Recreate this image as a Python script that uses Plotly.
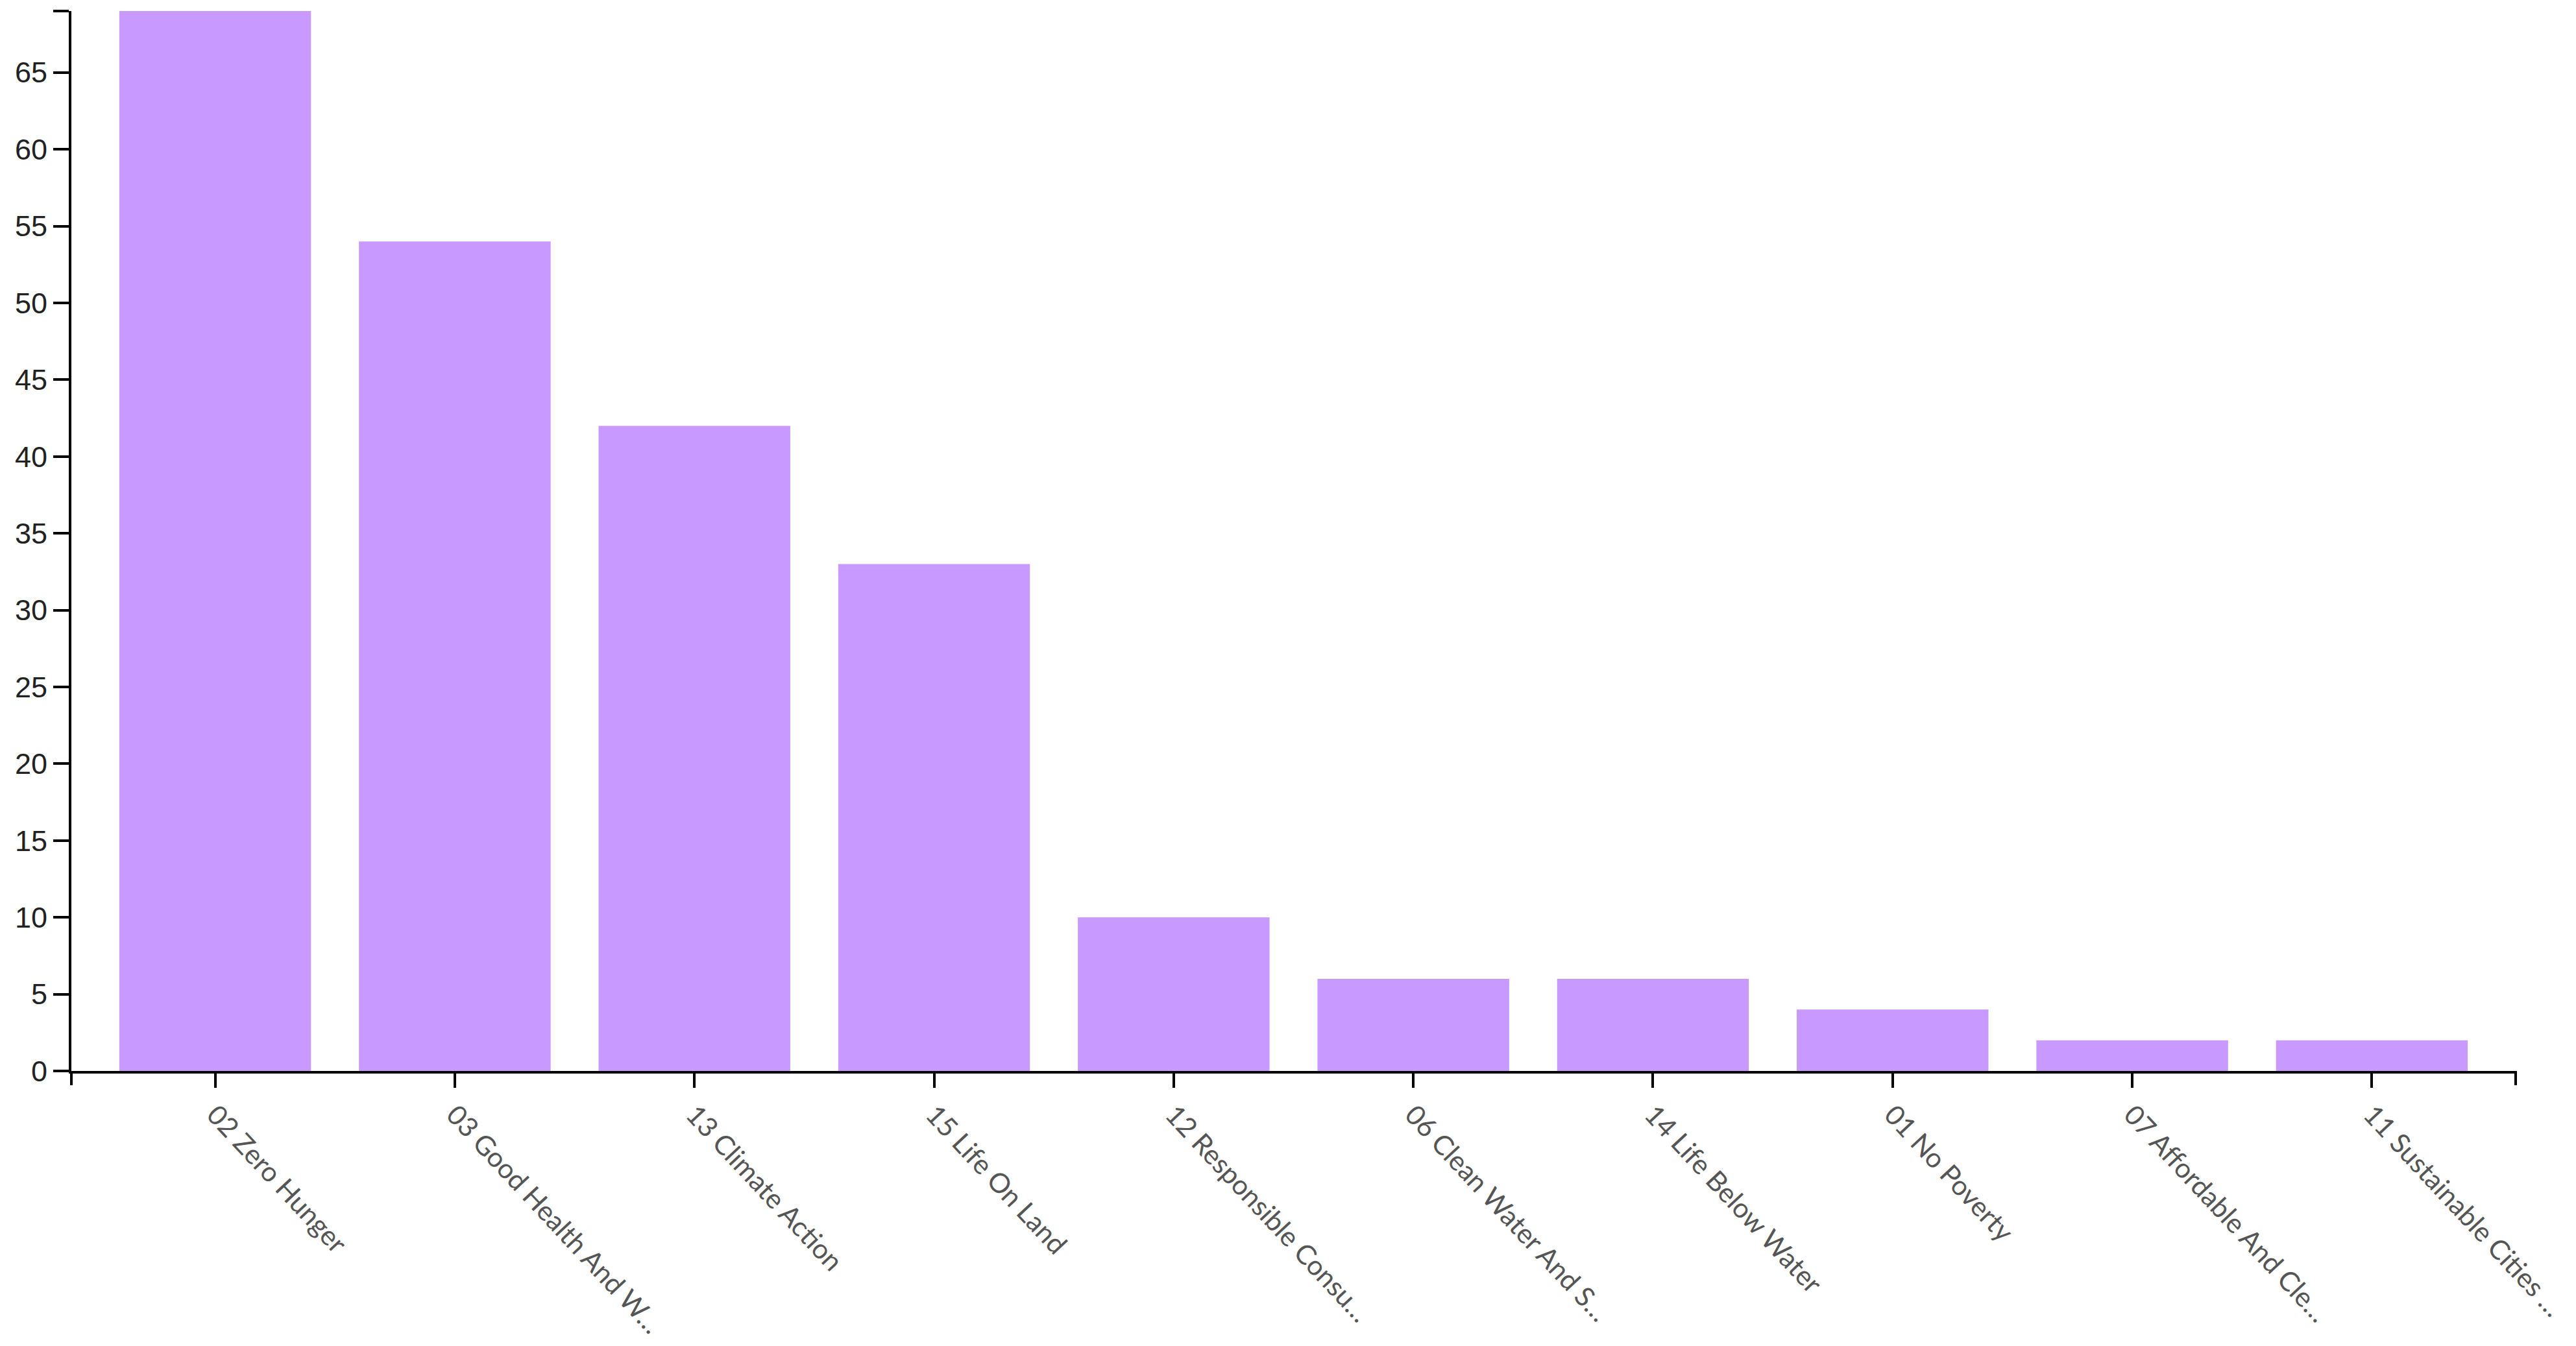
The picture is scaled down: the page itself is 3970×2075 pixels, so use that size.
import plotly.graph_objects as go

# categorias (rotulos truncados como no original) e contagens
categorias = [
    '02 Zero Hunger',
    '03 Good Health And W…',
    '13 Climate Action',
    '15 Life On Land',
    '12 Responsible Consu…',
    '06 Clean Water And S…',
    '14 Life Below Water',
    '01 No Poverty',
    '07 Affordable And Cle…',
    '11 Sustainable Cities …',
]
valores = [69, 54, 42, 33, 10, 6, 6, 4, 2, 2]

y_ticks = list(range(0, 70, 5))

fig = go.Figure(
    go.Bar(
        x=categorias,
        y=valores,
        marker_color='#c89aff',
        marker_line_width=0,
    )
)

# tick extra no topo do eixo y (como o "outer tick" do d3)
tickvals = y_ticks + [max(valores)]
ticktext = [str(v) for v in y_ticks] + ['']

fig.update_layout(
    width=3970,
    height=2075,
    margin=dict(l=102, r=101, t=9, b=432),
    plot_bgcolor='white',
    paper_bgcolor='white',
    bargap=0.2,
    showlegend=False,
)

fig.update_xaxes(
    range=[-0.6, len(categorias) - 0.4],
    automargin=False,
    showline=True,
    linecolor='black',
    linewidth=4,
    ticks='outside',
    ticklen=22,
    tickwidth=4,
    tickcolor='black',
    tickangle=47,
    tickfont=dict(family='Lato', size=42, color='#555555'),
    showgrid=False,
    zeroline=False,
)

fig.update_yaxes(
    range=[0, max(valores)],
    automargin=False,
    tickvals=tickvals,
    ticktext=ticktext,
    showline=True,
    linecolor='black',
    linewidth=4,
    ticks='outside',
    ticklen=24,
    tickwidth=4,
    tickcolor='black',
    ticklabelstandoff=0,
    tickfont=dict(family='Liberation Sans', size=45, color='#222222'),
    showgrid=False,
    zeroline=False,
)

# ticks externos nas extremidades do eixo x
for xp in [0, 1]:
    fig.add_shape(
        type='line', xref='paper', yref='paper',
        x0=xp, x1=xp, ysizemode='pixel', yanchor=0, y0=0, y1=-22,
        line=dict(color='black', width=4),
    )

fig.write_html('out.html')
